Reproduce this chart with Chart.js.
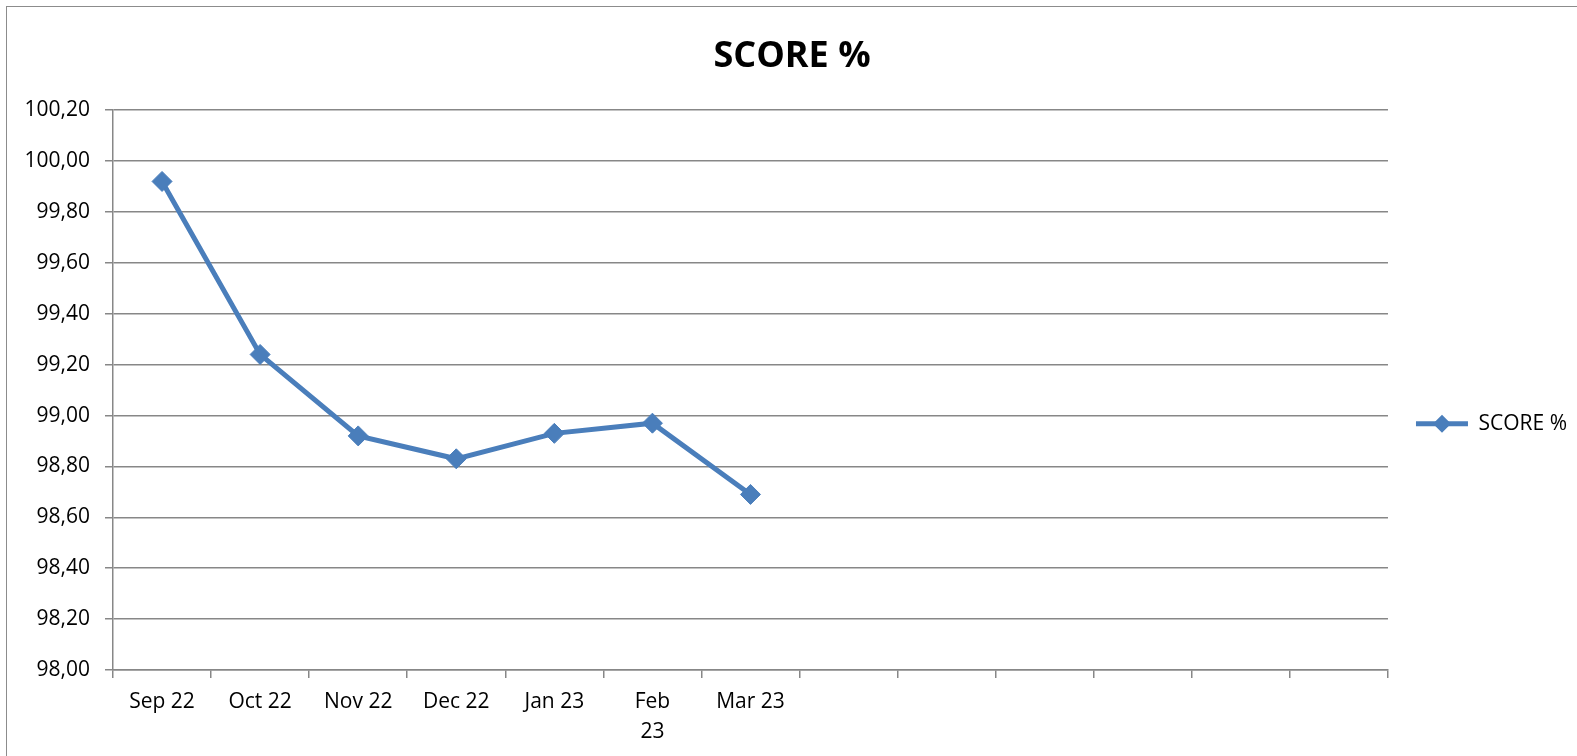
<!DOCTYPE html>
<html>
<head>
<meta charset="utf-8">
<script src="https://cdn.jsdelivr.net/npm/chart.js@4/dist/chart.umd.min.js"></script>
<style>
  html, body { margin: 0; padding: 0; background: #fff; overflow: hidden; }
  #frame { position: absolute; left: 6px; top: 6px; width: 1600px; height: 800px; border: 1.5px solid #8c8c8c; }
  #wrap { position: absolute; left: 7px; top: 7px; width: 1570px; height: 749px; }
</style>
</head>
<body>
<div id="frame"></div>
<div id="wrap"><canvas id="scoreChart"></canvas></div>
<script>
// months on the x axis (the sheet leaves the last ones empty)
const months = ['Sep 22', 'Oct 22', 'Nov 22', 'Dec 22', 'Jan 23', ['Feb', '23'], 'Mar 23', '', '', '', '', '', ''];
const scores = [99.92, 99.24, 98.92, 98.83, 98.93, 98.97, 98.69];
const seriesName = 'SCORE %';

const blue = '#4a7ebb';
const gridGray = '#878787';
const fontFamily = "'Open Sans', 'Noto Sans', sans-serif";

// draws a diamond on top of the legend line, Excel style
const legendDiamond = {
    id: 'legendDiamond',
    afterDraw(chart) {
        const legend = chart.legend;
        if (!legend || !legend.legendHitBoxes.length) return;
        const hb = legend.legendHitBoxes[0];
        const boxW = legend.options.labels.boxWidth;
        const cx = hb.left + boxW / 2;
        const cy = hb.top + hb.height / 2;
        const r = 9;
        const ctx = chart.ctx;
        ctx.save();
        ctx.fillStyle = blue;
        ctx.beginPath();
        ctx.moveTo(cx, cy - r);
        ctx.lineTo(cx + r, cy);
        ctx.lineTo(cx, cy + r);
        ctx.lineTo(cx - r, cy);
        ctx.closePath();
        ctx.fill();
        ctx.restore();
    }
};

new Chart(document.getElementById('scoreChart'), {
    type: 'line',
    data: {
        labels: months,
        datasets: [{
            label: seriesName,
            data: scores,
            borderColor: blue,
            backgroundColor: blue,
            borderWidth: 5,
            tension: 0,
            fill: false,
            pointStyle: 'rectRot',
            pointRadius: 10,
            pointBorderWidth: 1,
            pointBackgroundColor: blue,
            pointBorderColor: blue
        }]
    },
    options: {
        responsive: true,
        maintainAspectRatio: false,
        animation: false,
        layout: { padding: { left: 0, right: 0, top: 0, bottom: 0 } },
        plugins: {
            title: {
                display: true,
                text: 'SCORE %',
                color: '#000',
                font: { family: fontFamily, size: 36, weight: 'bold', lineHeight: 1.2 },
                padding: { top: 28, bottom: 32 }
            },
            legend: {
                position: 'right',
                // empty legend title only pushes the entry down to where Excel puts it
                title: { display: true, text: '', color: '#000', font: { size: 12 }, padding: { top: 70, bottom: 0 } },
                labels: {
                    color: '#000',
                    font: { family: fontFamily, size: 21 },
                    boxWidth: 52,
                    boxHeight: 5,
                    padding: 28,
                    generateLabels: (chart) => [{
                        text: seriesName,
                        fillStyle: blue,
                        strokeStyle: blue,
                        fontColor: '#000',
                        lineWidth: 0,
                        datasetIndex: 0
                    }]
                }
            },
            tooltip: { enabled: false }
        },
        scales: {
            x: {
                type: 'category',
                offset: true,
                grid: {
                    offset: true,
                    drawOnChartArea: false,
                    drawTicks: true,
                    tickLength: 8,
                    color: gridGray,
                    lineWidth: 1.5
                },
                border: { color: gridGray, width: 1.5 },
                ticks: {
                    color: '#000',
                    font: { family: fontFamily, size: 21, lineHeight: 1.42 },
                    padding: 9,
                    autoSkip: false,
                    maxRotation: 0
                },
                afterFit: (scale) => { scale.height = 86; }
            },
            y: {
                min: 98,
                max: 100.2,
                grid: {
                    color: gridGray,
                    lineWidth: 1.5,
                    drawTicks: true,
                    tickLength: 8
                },
                border: { color: gridGray, width: 1.5 },
                ticks: {
                    stepSize: 0.2,
                    color: '#000',
                    font: { family: fontFamily, size: 21 },
                    padding: 15,
                    callback: (v) => Number(v).toFixed(2).replace('.', ',')
                },
                afterFit: (scale) => { scale.width = 106; }
            }
        }
    },
    plugins: [legendDiamond]
});
</script>
</body>
</html>
